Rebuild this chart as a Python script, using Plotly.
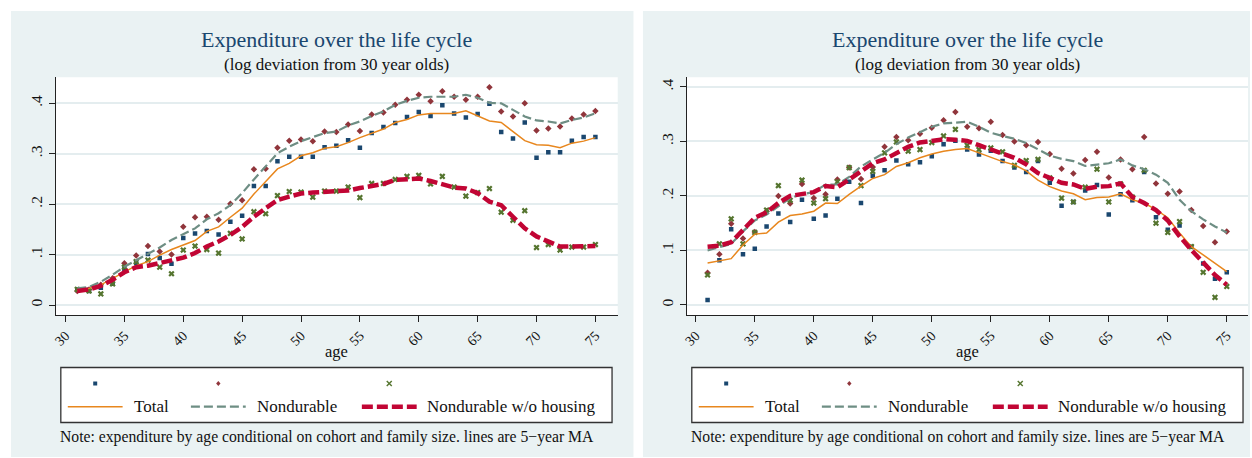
import plotly.graph_objects as go

W, H = 1252, 458

ages = list(range(31, 76))
x_ticks = [30, 35, 40, 45, 50, 55, 60, 65, 70, 75]
y_ticks = [0, 0.1, 0.2, 0.3, 0.4]
y_tick_text = ["0", ".1", ".2", ".3", ".4"]

title_text = "Expenditure over the life cycle"
subtitle_text = "(log deviation from 30 year olds)"
x_title = "age"
note_text = "Note: expenditure by age conditional on cohort and family size. lines are 5\u2212year MA"
series_names = ["Total", "Nondurable", "Nondurable w/o housing"]

# ---------------- left panel ----------------
left_total_pts = [0.031, 0.028, 0.034, 0.042, 0.072, 0.083, 0.101, 0.093, 0.082, 0.133,
                  0.142, 0.147, 0.140, 0.165, 0.177, 0.236, 0.236, 0.285, 0.294, 0.294,
                  0.294, 0.313, 0.316, 0.327, 0.312, 0.341, 0.353, 0.361, 0.373, 0.383,
                  0.375, 0.396, 0.380, 0.372, 0.379, 0.399, 0.343, 0.330, 0.362, 0.292,
                  0.303, 0.303, 0.326, 0.333, 0.333]
left_nondur_pts = [0.028, 0.031, 0.040, 0.053, 0.083, 0.098, 0.117, 0.106, 0.100, 0.155,
                   0.174, 0.175, 0.169, 0.201, 0.208, 0.269, 0.270, 0.312, 0.326, 0.328,
                   0.325, 0.344, 0.343, 0.358, 0.345, 0.378, 0.382, 0.397, 0.407, 0.417,
                   0.404, 0.424, 0.413, 0.407, 0.413, 0.432, 0.384, 0.374, 0.400, 0.346,
                   0.350, 0.354, 0.370, 0.378, 0.385]
left_nohouse_pts = [0.031, 0.028, 0.022, 0.042, 0.075, 0.086, 0.089, 0.075, 0.062, 0.109,
                    0.117, 0.110, 0.103, 0.142, 0.131, 0.185, 0.181, 0.217, 0.225, 0.224,
                    0.214, 0.226, 0.226, 0.234, 0.213, 0.241, 0.241, 0.249, 0.255, 0.257,
                    0.240, 0.255, 0.234, 0.216, 0.223, 0.231, 0.184, 0.168, 0.187, 0.114,
                    0.120, 0.109, 0.115, 0.115, 0.120]
left_total_ma = [0.029, 0.033, 0.040, 0.053, 0.066, 0.078, 0.086, 0.099, 0.110, 0.119,
                 0.128, 0.146, 0.155, 0.174, 0.192, 0.220, 0.246, 0.270, 0.281, 0.296,
                 0.302, 0.311, 0.314, 0.322, 0.332, 0.341, 0.349, 0.362, 0.368, 0.377,
                 0.380, 0.380, 0.380, 0.385, 0.375, 0.365, 0.362, 0.344, 0.326, 0.318,
                 0.317, 0.312, 0.321, 0.325, 0.332]
left_nondur_ma = [0.033, 0.036, 0.046, 0.060, 0.076, 0.089, 0.101, 0.114, 0.129, 0.141,
                  0.152, 0.170, 0.182, 0.198, 0.222, 0.249, 0.274, 0.301, 0.314, 0.325,
                  0.333, 0.341, 0.344, 0.356, 0.364, 0.375, 0.384, 0.397, 0.405, 0.411,
                  0.413, 0.413, 0.413, 0.417, 0.411, 0.401, 0.400, 0.387, 0.374, 0.366,
                  0.364, 0.360, 0.367, 0.372, 0.380]
left_nohouse_ma = [0.028, 0.031, 0.038, 0.050, 0.065, 0.075, 0.078, 0.084, 0.089, 0.094,
                   0.103, 0.116, 0.126, 0.139, 0.155, 0.175, 0.192, 0.208, 0.215, 0.221,
                   0.223, 0.224, 0.224, 0.227, 0.232, 0.236, 0.240, 0.248, 0.250, 0.251,
                   0.246, 0.240, 0.233, 0.231, 0.222, 0.205, 0.198, 0.175, 0.152, 0.136,
                   0.127, 0.116, 0.116, 0.116, 0.117]

# ---------------- right panel ----------------
right_total_pts = [0.009, 0.082, 0.139, 0.093, 0.103, 0.144, 0.168, 0.152, 0.193, 0.158,
                   0.164, 0.195, 0.226, 0.187, 0.237, 0.247, 0.265, 0.258, 0.262, 0.273,
                   0.295, 0.301, 0.285, 0.276, 0.283, 0.264, 0.252, 0.244, 0.264, 0.224,
                   0.182, 0.189, 0.210, 0.220, 0.166, 0.203, 0.192, 0.244, 0.161, 0.138,
                   0.146, 0.107, 0.076, 0.048, 0.060]
right_nondur_pts = [0.059, 0.093, 0.149, 0.122, 0.134, 0.172, 0.200, 0.186, 0.222, 0.196,
                    0.203, 0.230, 0.252, 0.231, 0.253, 0.290, 0.308, 0.302, 0.314, 0.325,
                    0.339, 0.354, 0.327, 0.324, 0.336, 0.312, 0.300, 0.293, 0.299, 0.277,
                    0.250, 0.241, 0.266, 0.281, 0.234, 0.267, 0.249, 0.308, 0.223, 0.204,
                    0.208, 0.174, 0.145, 0.115, 0.135]
right_nohouse_pts = [0.055, 0.112, 0.158, 0.112, 0.133, 0.174, 0.219, 0.192, 0.229, 0.187,
                     0.195, 0.226, 0.252, 0.219, 0.245, 0.279, 0.299, 0.282, 0.285, 0.298,
                     0.310, 0.322, 0.293, 0.285, 0.288, 0.281, 0.256, 0.265, 0.267, 0.233,
                     0.196, 0.189, 0.216, 0.249, 0.189, 0.222, 0.198, 0.247, 0.150, 0.133,
                     0.153, 0.107, 0.060, 0.014, 0.034]
right_total_ma = [0.077, 0.081, 0.085, 0.110, 0.130, 0.132, 0.152, 0.164, 0.167, 0.172,
                  0.187, 0.186, 0.203, 0.218, 0.232, 0.239, 0.254, 0.261, 0.270, 0.277,
                  0.282, 0.285, 0.287, 0.279, 0.271, 0.263, 0.257, 0.246, 0.229, 0.217,
                  0.209, 0.204, 0.193, 0.197, 0.198, 0.204, 0.193, 0.187, 0.175, 0.160,
                  0.132, 0.107, 0.092, 0.076, 0.061]
right_nondur_ma = [0.100, 0.106, 0.112, 0.135, 0.155, 0.166, 0.181, 0.196, 0.203, 0.207,
                   0.221, 0.221, 0.235, 0.254, 0.267, 0.279, 0.295, 0.307, 0.317, 0.327,
                   0.333, 0.335, 0.336, 0.327, 0.316, 0.310, 0.305, 0.297, 0.285, 0.274,
                   0.268, 0.264, 0.255, 0.258, 0.260, 0.267, 0.256, 0.249, 0.239, 0.224,
                   0.193, 0.172, 0.157, 0.144, 0.133]
right_nohouse_ma = [0.107, 0.109, 0.115, 0.138, 0.160, 0.170, 0.187, 0.200, 0.204, 0.207,
                    0.218, 0.216, 0.230, 0.246, 0.260, 0.267, 0.279, 0.290, 0.298, 0.302,
                    0.304, 0.303, 0.301, 0.293, 0.285, 0.278, 0.270, 0.258, 0.242, 0.233,
                    0.224, 0.221, 0.213, 0.217, 0.218, 0.223, 0.198, 0.187, 0.174, 0.155,
                    0.126, 0.101, 0.077, 0.055, 0.037]

# ---------------- styles ----------------
FONT = "Liberation Serif"
PANEL_BG = "#EAF2F3"
GRID = "#E4EDEF"
TITLE_C = "#1A476F"
NAVY, MAROON, GREEN = "#1A476F", "#90353B", "#55752F"
ORANGE, TEAL, CRAN = "#E8871E", "#6E8E84", "#C10534"

marker_styles = [dict(symbol="square", size=4.5, color=NAVY),
                 dict(symbol="diamond", size=5, color=MAROON),
                 dict(symbol="x", size=5.5, color=GREEN)]
line_styles = [dict(color=ORANGE, width=1.5),
               dict(color=TEAL, width=2.2, dash="9px,4px"),
               dict(color=CRAN, width=4.5, dash="11px,4px")]

panels = [
    dict(pts=[left_total_pts, left_nondur_pts, left_nohouse_pts],
         ma=[left_total_ma, left_nondur_ma, left_nohouse_ma],
         bg=(7, 631.5), plot=(51.7, 615.7), xr=[29.153, 76.896], yr=[-0.0198, 0.4516],
         leg=(57, 610)),
    dict(pts=[right_total_pts, right_nondur_pts, right_nohouse_pts],
         ma=[right_total_ma, right_nondur_ma, right_nohouse_ma],
         bg=(641, 1250), plot=(684.7, 1248), xr=[29.214, 76.80], yr=[-0.01837, 0.4176],
         leg=(690, 1243)),
]

PLOT_TOP, PLOT_BOT = 77.3, 315.0
PANEL_TOP, PANEL_BOT = 11, 457


def px(x):
    return x / W


def py(y):
    return 1 - y / H


fig = go.Figure()
shapes = []
annotations = []
layout = dict(width=W, height=H, margin=dict(l=0, r=0, t=0, b=0),
              paper_bgcolor="white", plot_bgcolor="white", showlegend=False,
              font=dict(family=FONT, color="#111111"))

for i, p in enumerate(panels):
    sfx = "" if i == 0 else str(i + 1)
    xa, ya = "x" + sfx, "y" + sfx
    # traces: scatter points first, lines on top
    for k in range(3):
        fig.add_trace(go.Scatter(x=ages, y=p["pts"][k], mode="markers", name=series_names[k],
                                 marker=dict(line=dict(width=0), **marker_styles[k]),
                                 xaxis=xa, yaxis=ya))
    for k in range(3):
        fig.add_trace(go.Scatter(x=ages, y=p["ma"][k], mode="lines", name=series_names[k],
                                 line=line_styles[k], xaxis=xa, yaxis=ya))

    x0, x1 = p["plot"]
    layout["xaxis" + sfx] = dict(domain=[px(x0), px(x1)], range=p["xr"], anchor=ya,
                                 tickvals=x_ticks, ticktext=[str(v) for v in x_ticks],
                                 tickangle=-45, ticks="outside", ticklen=6, tickcolor="#222",
                                 showline=True, linecolor="#222", linewidth=1,
                                 showgrid=False, zeroline=False,
                                 tickfont=dict(family=FONT, size=14, color="#111"))
    layout["yaxis" + sfx] = dict(domain=[py(PLOT_BOT), py(PLOT_TOP)], range=p["yr"], anchor=xa,
                                 tickvals=y_ticks, ticktext=y_tick_text, tickangle=-90,
                                 ticks="outside", ticklen=6, tickcolor="#222",
                                 showline=True, linecolor="#222", linewidth=1,
                                 showgrid=True, gridcolor=GRID, gridwidth=1.5, zeroline=False,
                                 tickfont=dict(family=FONT, size=15.5, color="#111"))

    # panel background and white plot region
    b0, b1 = p["bg"]
    shapes.append(dict(type="rect", xref="paper", yref="paper", layer="below",
                       x0=px(b0), x1=px(b1), y0=py(PANEL_BOT), y1=py(PANEL_TOP),
                       fillcolor=PANEL_BG, line=dict(width=0)))
    shapes.append(dict(type="rect", xref="paper", yref="paper", layer="below",
                       x0=px(x0), x1=px(x1), y0=py(PLOT_BOT), y1=py(PLOT_TOP),
                       fillcolor="white", line=dict(width=0)))

    cx = (x0 + x1) / 2
    annotations.append(dict(text=title_text, x=px(cx), y=py(39.5), xref="paper", yref="paper",
                            showarrow=False, xanchor="center", yanchor="middle",
                            font=dict(family=FONT, size=22, color=TITLE_C)))
    annotations.append(dict(text=subtitle_text, x=px(cx), y=py(64.5), xref="paper", yref="paper",
                            showarrow=False, xanchor="center", yanchor="middle",
                            font=dict(family=FONT, size=17, color="#111")))
    annotations.append(dict(text=x_title, x=px(cx), y=py(351), xref="paper", yref="paper",
                            showarrow=False, xanchor="center", yanchor="middle",
                            font=dict(family=FONT, size=16.5, color="#111")))

    # legend box
    l0, l1 = p["leg"]
    shapes.append(dict(type="rect", xref="paper", yref="paper", layer="above",
                       x0=px(l0), x1=px(l1), y0=py(422.5), y1=py(367.5),
                       fillcolor="white", line=dict(color="#333", width=1.3)))
    annotations.append(dict(text=note_text, x=px(l0 - 3), y=py(437), xref="paper", yref="paper",
                            showarrow=False, xanchor="left", yanchor="middle",
                            font=dict(family=FONT, size=15.7, color="#111")))
    row_m, row_l = 383.5, 406.7
    col_starts = [7, 130.5, 302]
    text_starts = [71.5, 195, 365.5]
    for k in range(3):
        s0 = l0 + col_starts[k]
        s1 = s0 + 55
        ls = line_styles[k]
        shapes.append(dict(type="line", xref="paper", yref="paper", layer="above",
                           x0=px(s0), x1=px(s1), y0=py(row_l), y1=py(row_l),
                           line=dict(color=ls["color"], width=ls["width"],
                                     dash=ls.get("dash", "solid"))))
        annotations.append(dict(text=series_names[k], x=px(l0 + text_starts[k]), y=py(row_l),
                                xref="paper", yref="paper", showarrow=False,
                                xanchor="left", yanchor="middle",
                                font=dict(family=FONT, size=17, color="#111")))
        mc = (s0 + s1) / 2
        col = marker_styles[k]["color"]
        if k == 0:
            shapes.append(dict(type="rect", xref="paper", yref="paper", layer="above",
                               x0=px(mc - 2), x1=px(mc + 2), y0=py(row_m + 2), y1=py(row_m - 2),
                               fillcolor=col, line=dict(width=0)))
        elif k == 1:
            path = "M {} {} L {} {} L {} {} L {} {} Z".format(
                px(mc), py(row_m - 2.6), px(mc + 2.2), py(row_m),
                px(mc), py(row_m + 2.6), px(mc - 2.2), py(row_m))
            shapes.append(dict(type="path", xref="paper", yref="paper", layer="above",
                               path=path, fillcolor=col, line=dict(width=0)))
        else:
            for dy in (-1, 1):
                shapes.append(dict(type="line", xref="paper", yref="paper", layer="above",
                                   x0=px(mc - 2.5), x1=px(mc + 2.5),
                                   y0=py(row_m - 2.5 * dy), y1=py(row_m + 2.5 * dy),
                                   line=dict(color=col, width=1.4)))

layout["shapes"] = shapes
layout["annotations"] = annotations
fig.update_layout(**layout)
fig.write_html("out.html", config={"displayModeBar": False},
               post_script="document.body.style.margin='0px';document.body.style.overflow='hidden';")
